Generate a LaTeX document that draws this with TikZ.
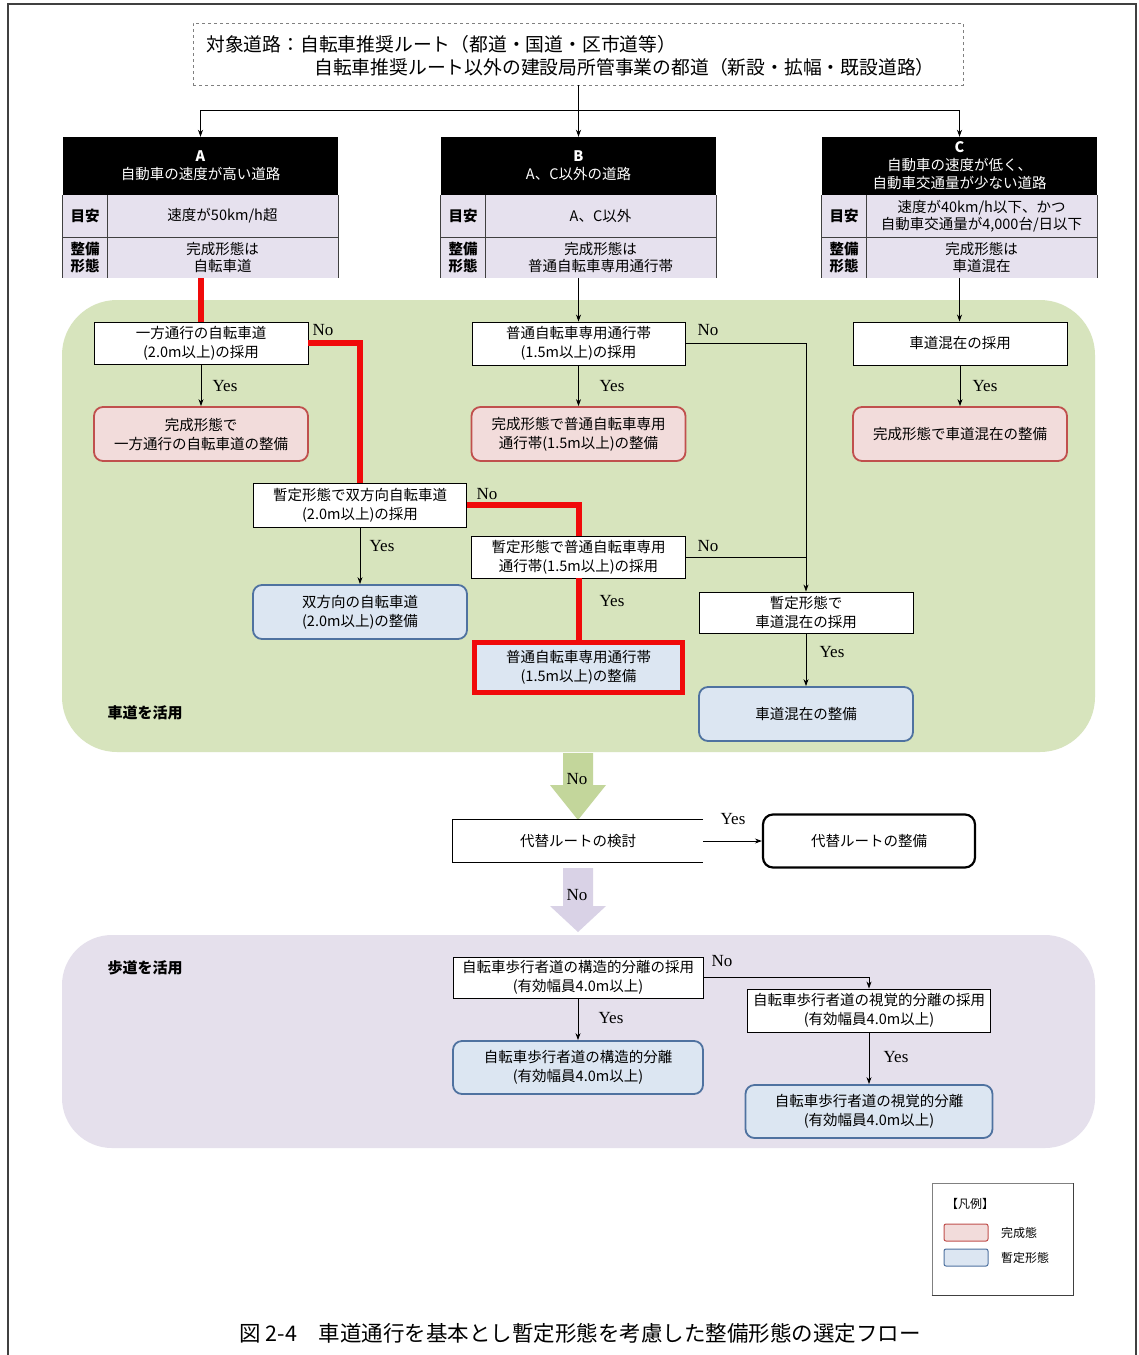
\documentclass[tikz,border=0pt]{standalone}
\usepackage{fontspec}
\setmainfont{Noto Sans CJK JP}
\newfontfamily\ynfont{Liberation Serif}
\usetikzlibrary{arrows.meta}
\definecolor{greenbg}{HTML}{D7E4BD}
\definecolor{purplebg}{HTML}{E5E0EC}
\definecolor{lav}{HTML}{E6E1EE}
\definecolor{pinkfill}{HTML}{F2DCDB}
\definecolor{pinkline}{HTML}{C0504D}
\definecolor{bluefill}{HTML}{DCE6F2}
\definecolor{blueline}{HTML}{4F72A0}
\definecolor{redc}{HTML}{F00A0A}
\definecolor{greenarrow}{HTML}{C3D69B}
\definecolor{purplearrow}{HTML}{D9D2E6}
\definecolor{framec}{HTML}{404040}
\tikzset{
  base/.style={font=\fontsize{14.5}{19}\selectfont, align=center, inner sep=0pt},
  dec/.style={base, draw=black, fill=white, line width=0.9pt},
  fin/.style={base, draw=pinkline, fill=pinkfill, line width=1.8pt, rounded corners=9pt},
  tmp/.style={base, draw=blueline, fill=bluefill, line width=1.8pt, rounded corners=9pt},
  hdr/.style={base, fill=black, text=white, minimum width=275pt, minimum height=58pt, font=\fontsize{14.5}{18}\selectfont},
  lab/.style={base, fill=lav, minimum width=44pt, font=\bfseries\fontsize{14.5}{17}\selectfont},
  val/.style={base, fill=lav, minimum width=231pt, font=\fontsize{14.5}{17}\selectfont},
  conn/.style={line width=0.8pt, -{Stealth[length=7pt,width=5pt]}},
  plain/.style={line width=0.8pt},
  redpath/.style={line width=6pt, draw=redc},
  yn/.style={font=\ynfont\fontsize{17}{17}\selectfont, inner sep=0pt},
  tline/.style={draw=framec, line width=1pt},
  region/.style={font=\bfseries\fontsize{15}{15}\selectfont, inner sep=0pt}
}
\begin{document}
\begin{tikzpicture}[x=1pt,y=-1pt]
\useasboundingbox (0,0) rectangle (1139,1355);
\fill[white] (0,0) rectangle (1139,1355);
% outer frame
\draw[framec, line width=1.5pt] (8,1355) -- (8,4) -- (1136,4) -- (1136,1355);

% regions
\fill[greenbg, rounded corners=55pt] (62,300) rectangle (1095,752);
\fill[purplebg, rounded corners=50pt] (62,935) rectangle (1095,1148);
\node[region] (lblroad) at (145,713) {車道を活用};
\node[region] (lblwalk) at (145,968) {歩道を活用};

% top box
\node[draw=gray, dashed, line width=0.9pt, minimum width=770pt, minimum height=62pt, inner sep=0pt] (top) at (578,54) {};
\node[anchor=west, inner sep=0pt, font=\fontsize{18.8}{18.8}\selectfont] (t1) at (206,44) {対象道路：自転車推奨ルート（都道・国道・区市道等）};
\node[anchor=west, inner sep=0pt, font=\fontsize{18.8}{18.8}\selectfont] (t2) at (314,67) {自転車推奨ルート以外の建設局所管事業の都道（新設・拡幅・既設道路）};

% table A
\node[hdr] (A) at (200.5,166) {\textbf{A}\\自動車の速度が高い道路};
\node[lab, minimum height=42pt] (Ak) at (85,216) {目安};
\node[val, minimum height=42pt] (Av) at (222.5,216) {速度が50km/h超};
\node[lab, minimum height=41pt] (Ak2) at (85,257.5) {整備\\形態};
\node[val, minimum height=41pt] (Af) at (222.5,257.5) {完成形態は\\自転車道};
\draw[tline] (A.south west) -- (Ak2.south west);
\draw[tline] (A.south east) -- (Af.south east);
\draw[tline] (Ak.north east) -- (Ak2.south east);
\draw[tline] (Ak.south west) -- (Av.south east);

% table B
\node[hdr] (B) at (578.5,166) {\textbf{B}\\A、C以外の道路};
\node[lab, minimum height=42pt] (Bk) at (463,216) {目安};
\node[val, minimum height=42pt] (Bv) at (600.5,216) {A、C以外};
\node[lab, minimum height=41pt] (Bk2) at (463,257.5) {整備\\形態};
\node[val, minimum height=41pt] (Bf) at (600.5,257.5) {完成形態は\\普通自転車専用通行帯};
\draw[tline] (B.south west) -- (Bk2.south west);
\draw[tline] (B.south east) -- (Bf.south east);
\draw[tline] (Bk.north east) -- (Bk2.south east);
\draw[tline] (Bk.south west) -- (Bv.south east);

% table C
\node[hdr] (C) at (959.5,166) {\textbf{C}\\自動車の速度が低く、\\自動車交通量が少ない道路};
\node[lab, minimum height=42pt] (Ck) at (844,216) {目安};
\node[val, minimum height=42pt] (Cv) at (981.5,216) {速度が40km/h以下、かつ\\自動車交通量が4,000台/日以下};
\node[lab, minimum height=41pt] (Ck2) at (844,257.5) {整備\\形態};
\node[val, minimum height=41pt] (Cf) at (981.5,257.5) {完成形態は\\車道混在};
\draw[tline] (C.south west) -- (Ck2.south west);
\draw[tline] (C.south east) -- (Cf.south east);
\draw[tline] (Ck.north east) -- (Ck2.south east);
\draw[tline] (Ck.south west) -- (Cv.south east);

% top connectors
\coordinate (split) at (578,110);
\draw[plain] (top.south) -- (split);
\draw[conn] (split) -| (A.north);
\draw[conn] (split) -| (C.north);
\draw[conn] (split) -- (split -| B.north) -- (B.north);

% column A
\node[dec, minimum width=214pt, minimum height=42pt] (A1) at (201,343) {一方通行の自転車道\\(2.0m以上)の採用};
\node[fin, minimum width=214pt, minimum height=54pt] (A2) at (201,434) {完成形態で\\一方通行の自転車道の整備};
\node[dec, minimum width=213pt, minimum height=44pt] (A3) at (360,505) {暫定形態で双方向自転車道\\(2.0m以上)の採用};
\node[tmp, minimum width=214pt, minimum height=54pt] (A4) at (360,612) {双方向の自転車道\\(2.0m以上)の整備};

% column B
\node[dec, minimum width=213pt, minimum height=43pt] (B1) at (578.5,343.5) {普通自転車専用通行帯\\(1.5m以上)の採用};
\node[fin, minimum width=214pt, minimum height=54pt] (B2) at (578.5,434) {完成形態で普通自転車専用\\通行帯(1.5m以上)の整備};
\node[dec, minimum width=214pt, minimum height=42pt] (B3) at (578.5,557) {暫定形態で普通自転車専用\\通行帯(1.5m以上)の採用};
\node[base, fill=bluefill, draw=redc, line width=5pt, minimum width=208pt, minimum height=50pt] (B4) at (578.5,667) {普通自転車専用通行帯\\(1.5m以上)の整備};

% column C
\node[dec, minimum width=214pt, minimum height=43pt] (C1) at (960,343.5) {車道混在の採用};
\node[fin, minimum width=214pt, minimum height=54pt] (C2) at (960,434) {完成形態で車道混在の整備};
\node[dec, minimum width=214pt, minimum height=41pt] (C3) at (806,612.5) {暫定形態で\\車道混在の採用};
\node[tmp, minimum width=214pt, minimum height=54pt] (C4) at (806,714) {車道混在の整備};

% red route
\draw[redpath] (A.south |- Af.south) -- (A.south |- A1.north);
\draw[redpath] (A1.east) -| (A3.north);
\draw[redpath] (A3.east) -| (B3.north);
\draw[redpath] (B3.south) -- (B4.north);

% black connectors in green region
\draw[conn] (A1.south) -- (A2.north);
\draw[conn] (A3.south) -- (A4.north);
\draw[conn] (B.south |- Bf.south) -- (B1.north);
\draw[conn] (B1.south) -- (B2.north);
\draw[conn] (B1.east) -| (C3.north);
\draw[plain] (B3.east) -- (B3.east -| C3.north);
\draw[conn] (C.south |- Cf.south) -- (C.south |- C1.north);
\draw[conn] (C1.south) -- (C2.north);
\draw[conn] (C3.south) -- (C4.north);

% yes / no labels
\node[yn] (y1) at (225,386) {Yes};
\node[yn] (y2) at (612,386) {Yes};
\node[yn] (y3) at (985,386) {Yes};
\node[yn] (y4) at (382,546) {Yes};
\node[yn] (y5) at (612,601) {Yes};
\node[yn] (y6) at (832,652) {Yes};
\node[yn] (n1) at (323,330) {No};
\node[yn] (n2) at (708,330) {No};
\node[yn] (n3) at (487,494) {No};
\node[yn] (n4) at (708,546) {No};

% big green arrow
\fill[greenarrow] (563,753) -- (593,753) -- (593,785) -- (606,785) -- (578,820) -- (550,785) -- (563,785) -- cycle;
\node[yn] (n5) at (577,779) {No};

% alternative route
\node[base, fill=white, minimum width=250pt, minimum height=42pt] (alt1) at (578,841) {代替ルートの検討};
\draw[plain] (alt1.north east) -- (alt1.north west) -- (alt1.south west) -- (alt1.south east);
\node[base, fill=white, draw=black, line width=2.2pt, rounded corners=10pt, minimum width=212pt, minimum height=53pt] (alt2) at (869,841) {代替ルートの整備};
\draw[conn] (alt1.east) -- (alt2.west);
\node[yn] (y7) at (733,819) {Yes};

% big purple arrow
\fill[purplearrow] (563,868) -- (593,868) -- (593,906) -- (606,906) -- (578,932) -- (550,906) -- (563,906) -- cycle;
\node[yn] (n6) at (577,895) {No};

% sidewalk section
\node[dec, minimum width=250pt, minimum height=41pt] (P1) at (578,977.5) {自転車歩行者道の構造的分離の採用\\(有効幅員4.0m以上)};
\node[tmp, minimum width=250pt, minimum height=53pt] (P2) at (578,1067.5) {自転車歩行者道の構造的分離\\(有効幅員4.0m以上)};
\node[dec, minimum width=243pt, minimum height=43pt] (P3) at (869,1010.5) {自転車歩行者道の視覚的分離の採用\\(有効幅員4.0m以上)};
\node[tmp, minimum width=247pt, minimum height=53pt] (P4) at (869,1111.5) {自転車歩行者道の視覚的分離\\(有効幅員4.0m以上)};
\draw[conn] (P1.south) -- (P2.north);
\draw[conn] (P1.east) -| (P3.north);
\draw[conn] (P3.south) -- (P4.north);
\node[yn] (y8) at (611,1018) {Yes};
\node[yn] (y9) at (896,1057) {Yes};
\node[yn] (n7) at (722,961) {No};

% legend
\node[draw=gray, line width=0.8pt, fill=white, minimum width=141pt, minimum height=112pt, inner sep=0pt] (leg) at (1002.5,1239) {};
\draw[framec, line width=1.5pt] (leg.south west) -- (leg.south east) -- (leg.north east);
\node[base, font=\fontsize{12}{12}\selectfont] (legt) at (970,1204) {【凡例】};
\node[fin, line width=1pt, rounded corners=2pt, minimum width=44pt, minimum height=17pt] (legp) at (966,1232.5) {};
\node[tmp, line width=1pt, rounded corners=2pt, minimum width=44pt, minimum height=17pt] (legb) at (966,1257.5) {};
\node[base, anchor=west, font=\fontsize{12}{12}\selectfont] (legpt) at (1001,1232.5) {完成態};
\node[base, anchor=west, font=\fontsize{12}{12}\selectfont] (legbt) at (1001,1257.5) {暫定形態};

% caption
\node[base, font=\fontsize{21.5}{21.5}\selectfont] (cap) at (580,1333) {図 2-4　車道通行を基本とし暫定形態を考慮した整備形態の選定フロー};
\end{tikzpicture}
\end{document}
